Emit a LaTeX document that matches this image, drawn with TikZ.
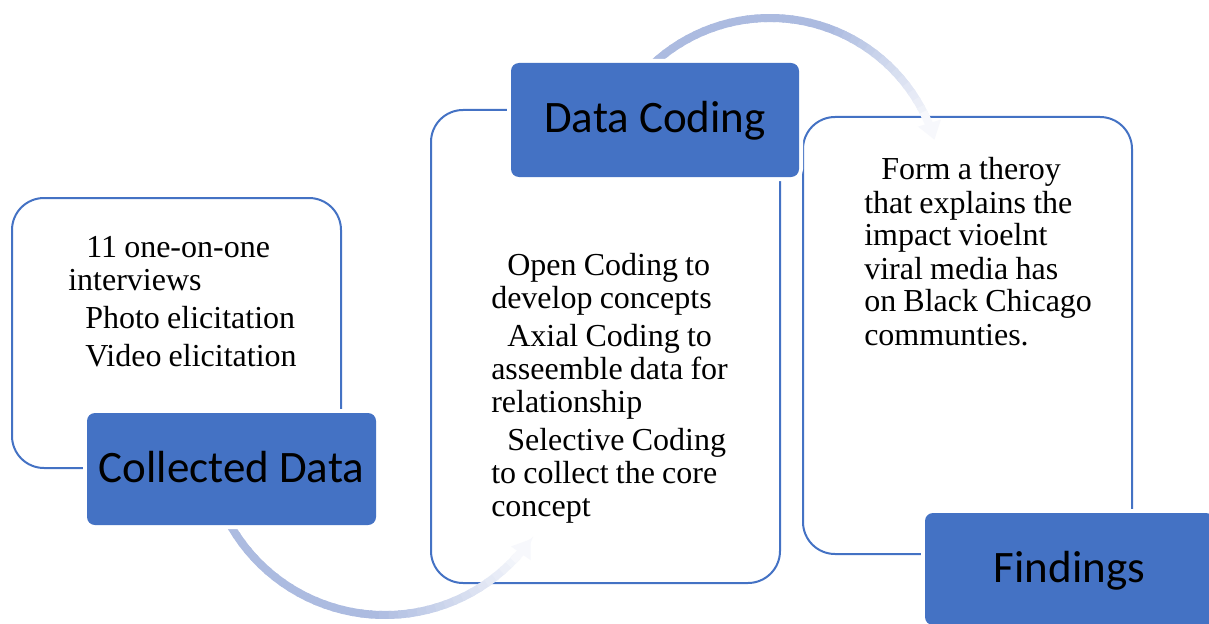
\documentclass[tikz,border=0pt]{standalone}
\usepackage{fontspec}
\setmainfont{Liberation Serif}
\newfontfamily\lblfont{Carlito}
\usetikzlibrary{arrows.meta}
\definecolor{accblue}{HTML}{4472C4}
\definecolor{arrblue}{RGB}{172,187,224}
\newcommand\tightspaces{\spaceskip=0.225em\relax}
\begin{document}
\begin{tikzpicture}[x=0.75pt,y=-0.75pt,
  panel/.style={rectangle, draw=accblue, line width=1.5pt, fill=white, rounded corners=24pt, inner sep=0pt},
  tagbox/.style={rectangle, fill=accblue, preaction={draw=white, line width=6pt}, rounded corners=6pt, inner sep=0pt,
    text height=24pt, text depth=4.5pt, font=\lblfont\fontsize{33.75}{40}\selectfont, text=black},
  bodytext/.style={inner sep=0pt, anchor=base west, text width=#1, align=left,
    font=\fontsize{24}{24.75}\selectfont, execute at begin node=\tightspaces},
  fadearc/.style={line width=6pt},
]
\useasboundingbox (0,0) rectangle (1209,624);
\clip (0,0) rectangle (1209,624);

% panels
\node[panel, minimum width=246.75pt, minimum height=202.5pt] (box1) at (176.5,333) {};
\node[panel, minimum width=261.75pt, minimum height=354.75pt] (box2) at (605.5,346.5) {};
\node[panel, minimum width=246.75pt, minimum height=327.75pt] (box3) at (967.5,335.5) {};

% curved arrows (fading)
\coordinate (c1) at (385,437);
\coordinate (c2) at (770,190);
\foreach \i in {0,...,35}{
  \pgfmathsetmacro{\aa}{153-\i*(153-43)/36}
  \pgfmathsetmacro{\bb}{153-(\i+1.3)*(153-43)/36}
  \pgfmathsetmacro{\p}{\i<20 ? 100 : 100-(\i-19)*5.2}
  \draw[fadearc, arrblue!\p!white] (c1) ++(\aa:178) arc[start angle=\aa, end angle=\bb, radius=178];
}
\draw[fadearc, arrblue!10!white, -{Triangle[width=17pt,length=13pt]}] (c1) ++(44:178) arc[start angle=44, end angle=35, radius=178];

\foreach \i in {0,...,35}{
  \pgfmathsetmacro{\aa}{226+\i*(334-226)/36}
  \pgfmathsetmacro{\bb}{226+(\i+1.3)*(334-226)/36}
  \pgfmathsetmacro{\p}{\i<22 ? 100 : 100-(\i-21)*5.8}
  \draw[fadearc, arrblue!\p!white] (c2) ++(\aa:172) arc[start angle=\aa, end angle=\bb, radius=172];
}
\draw[fadearc, arrblue!10!white, -{Triangle[width=17pt,length=13pt]}] (c2) ++(333:172) arc[start angle=333, end angle=343, radius=172];

% tag boxes
\node[tagbox, minimum width=216.75pt, minimum height=84pt] (tag1) at (231.5,469) {Collected Data};
\node[tagbox, minimum width=216pt, minimum height=85.5pt] (tag2) at (655,120) {Data Coding};
\node[tagbox, minimum width=216.75pt, minimum height=84pt] (tag3) at (1069.5,569) {Findings};

% body texts
\node[bodytext=220pt] (t1) at (68,257) {\hspace*{13.5pt}11 one-on-one\\ interviews\\[4pt]
  \hspace*{12.75pt}Photo elicitation\\[4pt] \hspace*{12.75pt}Video elicitation};
\node[bodytext=240pt] (t2) at (491,275) {\hspace*{12pt}Open Coding to\\ develop concepts\\[4pt]
  \hspace*{12pt}Axial Coding to\\ asseemble data for\\ relationship\\[4pt]
  \hspace*{12pt}Selective Coding\\ to collect the core\\ concept};
\node[bodytext=230pt] (t3) at (864,180) {\hspace*{12.75pt}Form a theroy\\ that explains the\\ impact vioelnt\\
  viral media has\\ on Black Chicago\\ communties.};
\end{tikzpicture}
\end{document}
